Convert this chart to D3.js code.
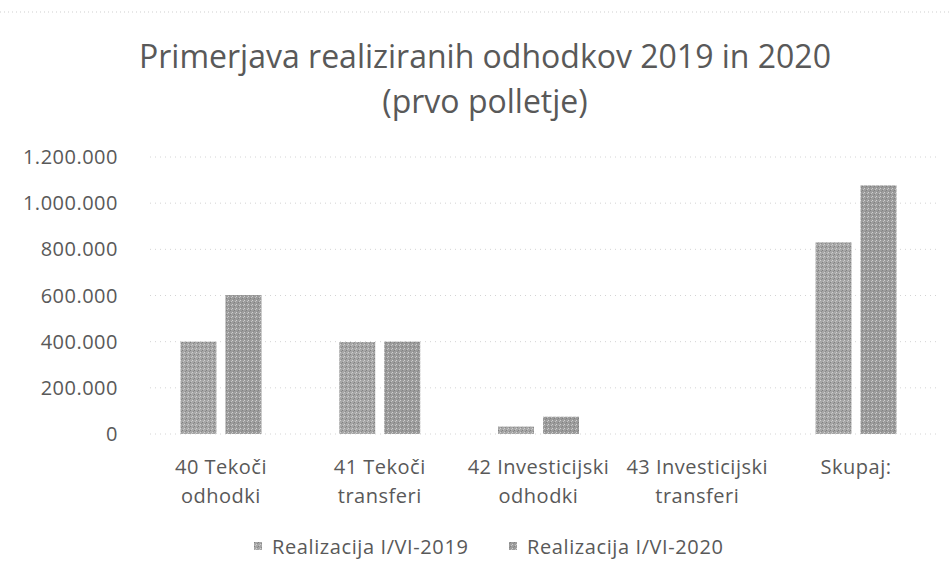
<!DOCTYPE html>
<html><head><meta charset="utf-8">
<script src="https://cdn.jsdelivr.net/npm/d3@7/dist/d3.min.js"></script>
<style>body{margin:0;background:#fff}svg{display:block}</style>
</head><body>
<svg id="c" width="951" height="582"></svg>
<script>
const categories = [["40 Tekoči","odhodki"],["41 Tekoči","transferi"],["42 Investicijski","odhodki"],["43 Investicijski","transferi"],["Skupaj:"]];
const seriesNames = ["Realizacija I/VI-2019","Realizacija I/VI-2020"];
const values2019 = [400000, 398000, 32000, 0, 830000];
const values2020 = [602000, 400000, 75000, 0, 1077000];
const yTicks = [0,200000,400000,600000,800000,1000000,1200000];
const titleLines = ["Primerjava realiziranih odhodkov 2019 in 2020","(prvo polletje)"];

(function(){
const svg = d3.select("#c");
const font = "'Open Sans', sans-serif";
const txt = "#595959";
const colors = ["#a6a6a6","#9c9c9c"];

const defs = svg.append("defs");
colors.forEach((c,i)=>{
  const p = defs.append("pattern").attr("id","p"+i).attr("width",4).attr("height",4).attr("patternUnits","userSpaceOnUse");
  p.append("rect").attr("width",4).attr("height",4).attr("fill",c);
  p.append("rect").attr("x",0).attr("y",0).attr("width",1).attr("height",1).attr("fill","#d0d0d0");
  p.append("rect").attr("x",2).attr("y",2).attr("width",1).attr("height",1).attr("fill","#808080");
  p.append("rect").attr("x",3).attr("y",1).attr("width",1).attr("height",1).attr("fill","#c4c4c4");
  p.append("rect").attr("x",1).attr("y",3).attr("width",1).attr("height",1).attr("fill","#8a8a8a");
});

svg.append("line").attr("x1",0).attr("x2",951).attr("y1",12).attr("y2",12)
  .attr("stroke","#cfcfcf").attr("stroke-dasharray","1,3");

const pLeft = 141.6, pRight = 935.4, pTop = 157, pBottom = 434;
const x = d3.scaleBand().domain(d3.range(categories.length)).range([pLeft,pRight]).paddingInner(0).paddingOuter(0);
const y = d3.scaleLinear().domain([0,1200000]).range([pBottom,pTop]);

svg.append("g").selectAll("line").data(yTicks).join("line")
  .attr("x1",150).attr("x2",940)
  .attr("y1",d=>y(d)).attr("y2",d=>y(d))
  .attr("stroke","#d4d4d4").attr("stroke-width",1).attr("stroke-dasharray","1,4");

const fmt = d => d3.format(",")(d).replace(/,/g,".");
svg.append("g").selectAll("text").data(yTicks).join("text")
  .attr("x",118).attr("y",d=>y(d)).attr("dy","0.35em").attr("text-anchor","end")
  .attr("font-family",font).attr("font-size",20).attr("letter-spacing",0.5).attr("fill",txt).text(fmt);

const barW = 36, gap = 9;
const series = [values2019, values2020];
series.forEach((vals,si)=>{
  svg.append("g").selectAll("rect").data(vals).join("rect")
    .attr("x",(d,i)=>x(i)+x.bandwidth()/2 - (barW*2+gap)/2 + si*(barW+gap))
    .attr("width",barW)
    .attr("y",d=>y(d)).attr("height",d=>pBottom - y(d))
    .attr("fill","url(#p"+si+")");
});

const xl = svg.append("g").selectAll("text").data(categories).join("text")
  .attr("x",(d,i)=>x(i)+x.bandwidth()/2).attr("y",474).attr("text-anchor","middle")
  .attr("font-family",font).attr("font-size",20).attr("letter-spacing",0.5).attr("fill",txt);
xl.selectAll("tspan").data(d=>d).join("tspan")
  .attr("x",function(){return this.parentNode.getAttribute("x");})
  .attr("dy",(d,i)=>i===0?0:29).text(d=>d);

svg.append("g").selectAll("text").data(titleLines).join("text")
  .attr("x",485).attr("y",(d,i)=>68+i*45).attr("text-anchor","middle")
  .attr("font-family",font).attr("font-size",32).attr("fill",txt).text(d=>d);

const lg = svg.append("g");
const legX = [254, 509];
seriesNames.forEach((n,i)=>{
  lg.append("rect").attr("x",legX[i]).attr("y",542).attr("width",8).attr("height",8).attr("fill","url(#p"+i+")");
  lg.append("text").attr("x",legX[i]+18).attr("y",554)
    .attr("font-family",font).attr("font-size",20).attr("letter-spacing",0.6).attr("fill",txt).text(n);
});
})();
</script>
</body></html>
